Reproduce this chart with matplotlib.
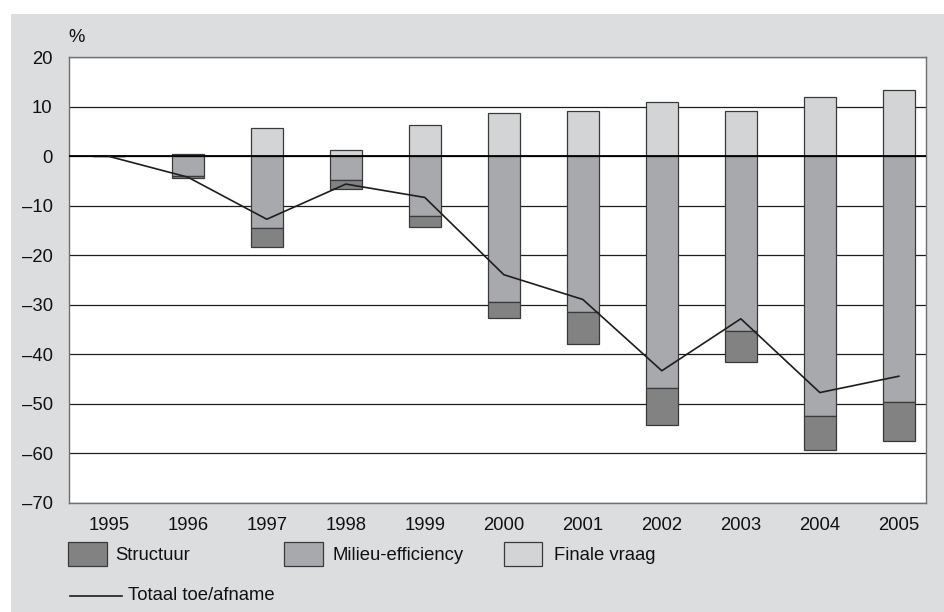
import matplotlib
matplotlib.use('Agg')
import matplotlib.pyplot as plt
from matplotlib.patches import Rectangle
from matplotlib.lines import Line2D
import numpy as np

# Bijdragen aan de verandering t.o.v. 1995 (%)
jaren = ['1995', '1996', '1997', '1998', '1999', '2000', '2001', '2002', '2003', '2004', '2005']
structuur = [0, -0.4, -3.9, -1.7, -2.2, -3.2, -6.3, -7.5, -6.3, -6.8, -7.9]
milieu_efficiency = [0, -3.9, -14.5, -4.8, -12.0, -29.4, -31.5, -46.7, -35.3, -52.5, -49.6]
finale_vraag = [0, 0.5, 5.8, 1.2, 6.3, 8.8, 9.2, 10.9, 9.1, 12.0, 13.3]
totaal = [0, -4.2, -12.7, -5.6, -8.3, -23.9, -28.9, -43.3, -32.8, -47.7, -44.4]

kleur_structuur = '#828282'
kleur_milieu = '#a8a9ac'
kleur_finale = '#d3d4d6'
kleur_rand = '#3a3a3a'
achtergrond = '#dcdddf'
fs = 13.3

plt.rcParams['font.family'] = ['Liberation Sans', 'DejaVu Sans']

W, H = 945, 612
fig = plt.figure(figsize=(W / 100, H / 100), dpi=100, facecolor='white')


def fx(px):
    return px / W


def fy(py):
    return 1 - py / H


# grijs paneel achter de grafiek
fig.add_artist(Rectangle((fx(11), 0), 1 - fx(11), fy(14), transform=fig.transFigure,
                         facecolor=achtergrond, edgecolor='none', zorder=-5))

ax = fig.add_axes([fx(69.3), fy(503), fx(925.7) - fx(69.3), fy(57.3) - fy(503)])
ax.set_facecolor('white')

x = np.arange(len(jaren))
breedte = 0.4
ax.bar(x, milieu_efficiency, breedte, color=kleur_milieu, edgecolor=kleur_rand, linewidth=0.9, zorder=2)
ax.bar(x, structuur, breedte, bottom=milieu_efficiency, color=kleur_structuur,
       edgecolor=kleur_rand, linewidth=0.9, zorder=2)
ax.bar(x, finale_vraag, breedte, color=kleur_finale, edgecolor=kleur_rand, linewidth=0.9, zorder=2)
ax.plot(x, totaal, color='#1e1e1e', linewidth=1.2, zorder=4)
ax.axhline(0, color='black', linewidth=1.3, zorder=3)

ax.set_xlim(-0.5, 10.34)
ax.set_ylim(-70, 20)
ax.set_yticks(np.arange(-70, 21, 10))
ax.set_yticklabels([str(v).replace('-', '\u2013') for v in range(-70, 21, 10)])
ax.set_xticks(x)
ax.set_xticklabels(jaren)
ax.yaxis.grid(True, color='#1e1e1e', linewidth=0.9)
ax.set_axisbelow(True)
ax.tick_params(axis='both', length=0, labelsize=fs, colors='#111111')
ax.tick_params(axis='y', pad=12)
ax.tick_params(axis='x', pad=10)
for sp in ax.spines.values():
    sp.set_color('#707070')
    sp.set_linewidth(1.0)

fig.text(fx(68), fy(38), '%', fontsize=fs, ha='left', va='center', color='#111111')

# legenda
items = [(68.3, kleur_structuur, 'Structuur', 115.7),
         (284.3, kleur_milieu, 'Milieu-efficiency', 332.7),
         (504, kleur_finale, 'Finale vraag', 554)]
for x0, kleur, tekst, tx in items:
    fig.add_artist(Rectangle((fx(x0), fy(565.7)), fx(38.4), fy(542.3) - fy(565.7),
                             transform=fig.transFigure, facecolor=kleur,
                             edgecolor=kleur_rand, linewidth=0.9))
    fig.text(fx(tx), fy(556), tekst, fontsize=fs, ha='left', va='center', color='#111111')

fig.add_artist(Line2D([fx(70), fx(121.7)], [fy(596), fy(596)], transform=fig.transFigure,
                      color='#1e1e1e', linewidth=1.2))
fig.text(fx(128.3), fy(596), 'Totaal toe/afname', fontsize=fs, ha='left', va='center', color='#111111')

fig.savefig('out.png', dpi=100, facecolor=fig.get_facecolor())
